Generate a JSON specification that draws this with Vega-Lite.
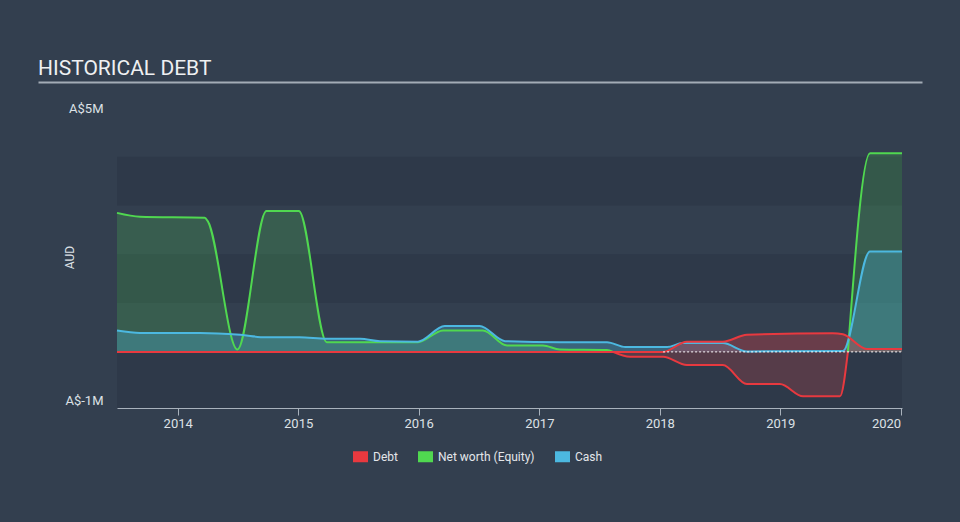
{
  "$schema": "https://vega.github.io/schema/vega-lite/v6.json",
  "background": "#333f4f",
  "padding": {"left": 37, "top": 55, "right": 37, "bottom": 92},
  "autosize": {"type": "pad"},
  "spacing": 20,
  "config": {"view": {"stroke": null}, "font": "Roboto"},
  "datasets": {
    "bands": [
      {"lo": 3000000, "hi": 4000000},
      {"lo": 1000000, "hi": 2000000},
      {"lo": -1150000, "hi": 0}
    ],
    "series": [
      {"s": "Net worth (Equity)", "p": 1, "d": "2013-07-01", "v": 2850000},
      {"s": "Net worth (Equity)", "p": 1, "d": "2013-09-09", "v": 2770000},
      {"s": "Net worth (Equity)", "p": 1, "d": "2014-03-24", "v": 2750000},
      {"s": "Net worth (Equity)", "p": 1, "d": "2014-04-02", "v": 2680000},
      {"s": "Net worth (Equity)", "p": 1, "d": "2014-07-01", "v": 50000},
      {"s": "Net worth (Equity)", "p": 1, "d": "2014-09-27", "v": 2890000},
      {"s": "Net worth (Equity)", "p": 1, "d": "2015-01-03", "v": 2890000},
      {"s": "Net worth (Equity)", "p": 1, "d": "2015-03-29", "v": 200000},
      {"s": "Net worth (Equity)", "p": 1, "d": "2015-12-30", "v": 200000},
      {"s": "Net worth (Equity)", "p": 1, "d": "2016-03-15", "v": 440000},
      {"s": "Net worth (Equity)", "p": 1, "d": "2016-07-14", "v": 440000},
      {"s": "Net worth (Equity)", "p": 1, "d": "2016-09-25", "v": 130000},
      {"s": "Net worth (Equity)", "p": 1, "d": "2017-01-12", "v": 130000},
      {"s": "Net worth (Equity)", "p": 1, "d": "2017-03-04", "v": 50000},
      {"s": "Net worth (Equity)", "p": 1, "d": "2017-07-25", "v": 40000},
      {"s": "Net worth (Equity)", "p": 1, "d": "2017-08-12", "v": 0},
      {"s": "Net worth (Equity)", "p": 2, "d": "2017-08-12", "v": 0},
      {"s": "Net worth (Equity)", "p": 2, "d": "2017-10-03", "v": -100000},
      {"s": "Net worth (Equity)", "p": 2, "d": "2018-01-11", "v": -100000},
      {"s": "Net worth (Equity)", "p": 2, "d": "2018-03-24", "v": -270000},
      {"s": "Net worth (Equity)", "p": 2, "d": "2018-07-11", "v": -270000},
      {"s": "Net worth (Equity)", "p": 2, "d": "2018-09-22", "v": -660000},
      {"s": "Net worth (Equity)", "p": 2, "d": "2018-12-31", "v": -660000},
      {"s": "Net worth (Equity)", "p": 2, "d": "2019-03-11", "v": -910000},
      {"s": "Net worth (Equity)", "p": 2, "d": "2019-07-01", "v": -910000},
      {"s": "Net worth (Equity)", "p": 2, "d": "2019-07-25", "v": 0},
      {"s": "Net worth (Equity)", "p": 3, "d": "2019-07-25", "v": 0},
      {"s": "Net worth (Equity)", "p": 3, "d": "2019-09-30", "v": 4070000},
      {"s": "Net worth (Equity)", "p": 3, "d": "2020-01-05", "v": 4070000},
      {"s": "Cash", "d": "2013-07-01", "v": 440000},
      {"s": "Cash", "d": "2013-09-09", "v": 390000},
      {"s": "Cash", "d": "2014-03-10", "v": 390000},
      {"s": "Cash", "d": "2014-07-10", "v": 350000},
      {"s": "Cash", "d": "2014-09-25", "v": 300000},
      {"s": "Cash", "d": "2015-01-05", "v": 300000},
      {"s": "Cash", "d": "2015-03-29", "v": 270000},
      {"s": "Cash", "d": "2015-07-08", "v": 270000},
      {"s": "Cash", "d": "2015-09-06", "v": 220000},
      {"s": "Cash", "d": "2015-12-30", "v": 210000},
      {"s": "Cash", "d": "2016-03-20", "v": 530000},
      {"s": "Cash", "d": "2016-07-04", "v": 530000},
      {"s": "Cash", "d": "2016-09-19", "v": 220000},
      {"s": "Cash", "d": "2017-03-04", "v": 200000},
      {"s": "Cash", "d": "2017-07-25", "v": 200000},
      {"s": "Cash", "d": "2017-09-19", "v": 100000},
      {"s": "Cash", "d": "2018-01-23", "v": 100000},
      {"s": "Cash", "d": "2018-03-11", "v": 180000},
      {"s": "Cash", "d": "2018-07-11", "v": 180000},
      {"s": "Cash", "d": "2018-09-22", "v": 10000},
      {"s": "Cash", "d": "2019-07-10", "v": 20000},
      {"s": "Cash", "d": "2019-09-30", "v": 2060000},
      {"s": "Cash", "d": "2020-01-05", "v": 2060000},
      {"s": "Debt", "d": "2013-07-01", "v": 0},
      {"s": "Debt", "d": "2018-01-11", "v": 0},
      {"s": "Debt", "d": "2018-03-24", "v": 210000},
      {"s": "Debt", "d": "2018-07-11", "v": 210000},
      {"s": "Debt", "d": "2018-09-22", "v": 350000},
      {"s": "Debt", "d": "2019-06-09", "v": 380000},
      {"s": "Debt", "d": "2019-07-10", "v": 360000},
      {"s": "Debt", "d": "2019-09-20", "v": 60000},
      {"s": "Debt", "d": "2020-01-05", "v": 60000}
    ]
  },
  "vconcat": [
    {
      "width": 805,
      "height": 27,
      "data": {"values": [{"t": "HISTORICAL DEBT"}]},
      "mark": {"type": "text", "align": "left", "baseline": "middle", "fontSize": 21, "color": "#eef0f2", "font": "Roboto", "clip": false},
      "encoding": {
        "text": {"field": "t"},
        "x": {"datum": 0, "type": "quantitative", "scale": {"domain": [0, 1], "range": [-79, 805]},
          "axis": {"domain": true, "domainColor": "#a3acb6", "domainWidth": 2, "labels": false, "ticks": false, "grid": false, "title": null}}
      }
    },
    {
      "width": 785,
      "height": 300,
      "layer": [
        {
          "data": {"name": "bands"},
          "mark": {"type": "rect", "color": "#2e3949"},
          "encoding": {
            "y": {"field": "lo", "type": "quantitative",
              "scale": {"domain": [-1150000, 5000000], "nice": false, "zero": false},
              "axis": {"values": [5000000, -1000000], "labelExpr": "datum.value > 0 ? 'A$5M' : 'A$-1M'",
                "domain": false, "grid": false, "ticks": true, "tickSize": 79, "tickColor": "transparent",
                "labelPadding": -65, "labelFontSize": 13, "labelColor": "#dde1e6",
                "title": "AUD", "titleFontSize": 12, "titleFontWeight": "normal", "titleColor": "#dde1e6",
                "titleX": -44, "titleY": 149, "titleAngle": -90, "titleAlign": "center", "titleBaseline": "alphabetic"}},
            "y2": {"field": "hi"}
          }
        },
        {
          "data": {"name": "series"},
          "transform": [{"filter": "datum.s == 'Net worth (Equity)' && datum.p != 2"}],
          "mark": {"type": "area", "interpolate": "monotone", "color": "#50d850", "fillOpacity": 0.2},
          "encoding": {
            "x": {"field": "d", "type": "temporal",
              "scale": {"type": "utc", "domain": [{"year": 2013, "month": 7, "date": 1, "utc": true}, {"year": 2020, "month": 1, "date": 5, "utc": true}]},
              "axis": {"values": [{"year": 2014, "utc": true}, {"year": 2015, "utc": true}, {"year": 2016, "utc": true}, {"year": 2017, "utc": true}, {"year": 2018, "utc": true}, {"year": 2019, "utc": true}, {"year": 2020, "utc": true}],
                "format": "%Y", "title": null, "grid": false, "domainColor": "#a9b2bc", "tickColor": "#a9b2bc", "tickSize": 7,
                "labelColor": "#dde1e6", "labelFontSize": 13, "labelPadding": 2, "labelFlush": 5}},
            "y": {"field": "v", "type": "quantitative"},
            "y2": {"datum": 0},
            "detail": {"field": "p"}
          }
        },
        {
          "data": {"name": "series"},
          "transform": [{"filter": "datum.s == 'Net worth (Equity)' && datum.p == 2"}],
          "mark": {"type": "area", "interpolate": "monotone", "color": "#e8474a", "fillOpacity": 0.22},
          "encoding": {
            "x": {"field": "d", "type": "temporal"},
            "y": {"field": "v", "type": "quantitative"},
            "y2": {"datum": 0}
          }
        },
        {
          "data": {"name": "series"},
          "transform": [{"filter": "datum.s == 'Cash'"}],
          "mark": {"type": "area", "interpolate": "monotone", "color": "#4cb8e0", "fillOpacity": 0.3},
          "encoding": {
            "x": {"field": "d", "type": "temporal"},
            "y": {"field": "v", "type": "quantitative"},
            "y2": {"datum": 0}
          }
        },
        {
          "data": {"name": "series"},
          "transform": [{"filter": "datum.s == 'Debt'"}],
          "mark": {"type": "area", "interpolate": "monotone", "color": "#e8393f", "fillOpacity": 0.3},
          "encoding": {
            "x": {"field": "d", "type": "temporal"},
            "y": {"field": "v", "type": "quantitative"},
            "y2": {"datum": 0}
          }
        },
        {
          "data": {"name": "series"},
          "transform": [{"filter": "datum.s == 'Net worth (Equity)' && datum.p != 2"}],
          "mark": {"type": "line", "interpolate": "monotone", "color": "#50d850", "strokeWidth": 2},
          "encoding": {
            "x": {"field": "d", "type": "temporal"},
            "y": {"field": "v", "type": "quantitative"},
            "detail": {"field": "p"}
          }
        },
        {
          "data": {"name": "series"},
          "transform": [{"filter": "datum.s == 'Net worth (Equity)' && datum.p == 2"}],
          "mark": {"type": "line", "interpolate": "monotone", "color": "#e8393f", "strokeWidth": 2},
          "encoding": {
            "x": {"field": "d", "type": "temporal"},
            "y": {"field": "v", "type": "quantitative"}
          }
        },
        {
          "data": {"name": "series"},
          "transform": [{"filter": "datum.s == 'Cash'"}],
          "mark": {"type": "line", "interpolate": "monotone", "color": "#4cb8e0", "strokeWidth": 2},
          "encoding": {
            "x": {"field": "d", "type": "temporal"},
            "y": {"field": "v", "type": "quantitative"}
          }
        },
        {
          "data": {"name": "series"},
          "transform": [{"filter": "datum.s == 'Debt'"}],
          "mark": {"type": "line", "interpolate": "monotone", "color": "#e8393f", "strokeWidth": 2},
          "encoding": {
            "x": {"field": "d", "type": "temporal"},
            "y": {"field": "v", "type": "quantitative"}
          }
        },
        {
          "data": {"name": "series"},
          "transform": [{"filter": {"and": [{"field": "s", "equal": "Debt"}, {"field": "d", "gte": {"year": 2018, "month": 1, "date": 11, "utc": true}}]}}],
          "mark": {"type": "line", "color": "#ffffff", "strokeWidth": 1, "strokeDash": [2, 2]},
          "encoding": {
            "x": {"field": "d", "type": "temporal"},
            "y": {"datum": 0, "type": "quantitative"}
          }
        },
        {
          "data": {"name": "series"},
          "mark": {"type": "point", "filled": true, "opacity": 0},
          "encoding": {
            "x": {"field": "d", "type": "temporal"},
            "y": {"field": "v", "type": "quantitative"},
            "color": {"field": "s", "type": "nominal",
              "scale": {"domain": ["Debt", "Net worth (Equity)", "Cash"], "range": ["#e8393f", "#50d850", "#4cb8e0"]},
              "legend": {"orient": "none", "legendX": 236, "legendY": 394, "direction": "horizontal", "title": null,
                "symbolType": "M-1,-0.733H1V0.733H-1Z", "symbolSize": 225, "symbolOpacity": 1, "symbolStrokeWidth": 0,
                "labelFontSize": 12, "labelColor": "#e3e6ea", "labelFont": "Roboto", "labelOffset": 5, "columnPadding": 20}}
          }
        }
      ]
    }
  ]
}
